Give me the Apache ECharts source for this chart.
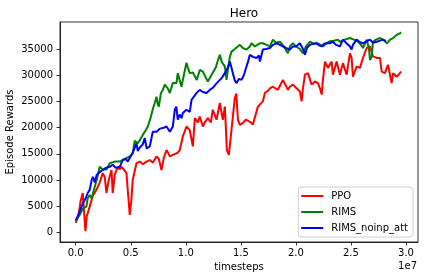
<!DOCTYPE html>
<html>
<head>
<meta charset="utf-8">
<script src="https://cdn.jsdelivr.net/npm/echarts@6/dist/echarts.min.js"></script>
<style>html,body{margin:0;padding:0;background:#fff}#c{width:424px;height:280px}</style>
</head>
<body>
<div id="c"></div>
<script>
// x values in units of 1e7 timesteps
const xTicks = [0.0, 0.5, 1.0, 1.5, 2.0, 2.5, 3.0];
const yTicks = [0, 5000, 10000, 15000, 20000, 25000, 30000, 35000];
const seriesNames = ['PPO', 'RIMS', 'RIMS_noinp_att'];

const ppoX = [0.000,0.027,0.045,0.064,0.088,0.100,0.127,0.155,0.188,0.218,0.245,0.264,0.279,0.300,0.325,0.336,0.355,0.382,0.400,0.415,0.436,0.461,0.473,0.491,0.505,0.518,0.552,0.582,0.609,0.643,0.673,0.700,0.734,0.755,0.779,0.800,0.825,0.855,0.882,0.900,0.927,0.945,0.973,1.006,1.018,1.036,1.064,1.082,1.109,1.127,1.155,1.173,1.200,1.227,1.245,1.279,1.309,1.336,1.355,1.373,1.391,1.415,1.427,1.445,1.459,1.473,1.491,1.518,1.545,1.582,1.609,1.627,1.655,1.673,1.700,1.718,1.745,1.764,1.791,1.809,1.836,1.855,1.882,1.909,1.927,1.945,1.973,2.006,2.036,2.052,2.064,2.082,2.109,2.143,2.173,2.200,2.218,2.234,2.245,2.264,2.291,2.325,2.336,2.370,2.400,2.427,2.461,2.491,2.506,2.518,2.552,2.582,2.609,2.643,2.673,2.700,2.734,2.764,2.779,2.809,2.836,2.870,2.882,2.915,2.945,2.955];
const ppoY = [1800,3500,6000,7500,200,3000,4900,7000,8100,9500,11300,10500,7500,10000,11900,7500,11000,12500,12000,12500,12000,11300,8000,3300,6000,10000,13200,13500,13000,13500,13800,13300,14500,14000,11900,14200,15700,14500,14800,14500,15200,15700,18300,20200,20000,19500,16400,21800,21000,22100,20200,21000,21800,21000,23400,21500,24700,21500,24000,15700,14800,19550,22000,25700,26500,21500,20500,20900,21500,21100,20600,20500,24000,24300,25000,26600,27000,27500,27800,28000,27200,28000,29100,28000,27200,27800,28200,27500,26900,25000,27500,30100,30400,28200,28800,28500,27500,26300,29000,32600,31400,32600,30100,32600,30100,32300,30100,34200,33300,29700,31700,31400,33300,35200,35500,33600,33300,33300,30700,30400,32000,28500,30400,29700,30400,30700];

const rimsX = [0.000,0.018,0.036,0.064,0.097,0.109,0.127,0.145,0.173,0.191,0.218,0.245,0.279,0.309,0.355,0.400,0.445,0.491,0.518,0.536,0.564,0.582,0.609,0.636,0.655,0.682,0.700,0.718,0.734,0.745,0.755,0.773,0.791,0.809,0.836,0.855,0.882,0.915,0.927,0.961,0.973,1.006,1.018,1.036,1.064,1.082,1.100,1.127,1.155,1.182,1.200,1.227,1.245,1.273,1.291,1.309,1.327,1.355,1.370,1.382,1.400,1.415,1.445,1.491,1.518,1.552,1.582,1.597,1.627,1.643,1.673,1.700,1.734,1.764,1.791,1.818,1.855,1.891,1.927,1.945,1.973,2.000,2.036,2.064,2.091,2.127,2.164,2.200,2.245,2.273,2.309,2.345,2.382,2.400,2.445,2.491,2.527,2.564,2.591,2.609,2.643,2.664,2.673,2.688,2.700,2.727,2.764,2.791,2.827,2.855,2.882,2.915,2.945,2.955];
const rimsY = [2000,2800,3300,4500,4900,6500,7100,6500,8700,10000,12500,12000,12000,13200,13500,13500,14000,14500,15100,17500,17000,17600,18600,19500,20200,22000,23500,24700,25900,24500,24000,26500,27200,28200,27500,26600,28500,28500,30400,27800,29100,32400,31500,30400,30500,30700,29100,31000,30700,29500,28800,29800,29700,31500,32800,33900,32500,31700,29100,31000,33500,34500,35000,35800,35200,34900,35500,36100,35500,35200,36100,36100,35800,35500,36800,36200,36400,35500,34200,35500,36100,35500,35000,34200,35500,36400,36000,36100,35500,36000,36500,36600,36800,36400,36800,37100,36800,36400,35800,35200,36800,35000,32900,33500,36400,36800,37100,36800,36100,36800,37100,37700,38000,38200];

const noinpX = [0.000,0.018,0.036,0.066,0.091,0.109,0.127,0.145,0.157,0.173,0.191,0.218,0.245,0.273,0.309,0.336,0.364,0.400,0.427,0.455,0.473,0.491,0.518,0.552,0.564,0.582,0.609,0.627,0.645,0.673,0.700,0.734,0.764,0.791,0.825,0.855,0.882,0.900,0.914,0.927,0.945,0.961,0.973,1.006,1.036,1.052,1.064,1.097,1.127,1.155,1.188,1.218,1.245,1.273,1.309,1.327,1.355,1.382,1.400,1.414,1.427,1.445,1.461,1.482,1.506,1.527,1.552,1.564,1.582,1.609,1.643,1.664,1.673,1.700,1.727,1.764,1.791,1.825,1.855,1.882,1.909,1.945,1.973,2.000,2.036,2.064,2.082,2.100,2.127,2.155,2.188,2.209,2.234,2.255,2.279,2.309,2.336,2.364,2.400,2.427,2.455,2.491,2.506,2.518,2.552,2.582,2.609,2.636,2.673,2.700,2.734,2.764,2.791,2.818];
const noinpY = [2300,3000,4000,5600,6500,7500,8100,10000,10600,9500,11000,11500,11900,12300,12500,12900,12300,12500,13800,14000,13500,14200,15200,17000,15500,16200,16800,18000,16000,16400,19200,19200,19800,19900,20200,19200,20200,23400,24000,21500,22500,21800,22800,23400,23000,25300,25000,26600,27200,26800,26600,27200,27600,28300,29100,29500,30400,31500,32600,31500,30400,29000,28500,29300,29100,30000,31700,32500,33900,33500,33300,33800,32600,34900,35000,35200,35800,36100,35800,35500,35200,34900,35500,35500,36100,35000,33900,35200,35800,36000,36100,35700,35500,36000,36100,36100,36400,35800,35500,36800,36200,35500,34900,35800,36800,36300,36100,36400,36800,36200,36400,36600,36800,36500];

const zip = (xs, ys) => xs.map((x, i) => [x, ys[i]]);
const font = 'DejaVu Sans';
const chart = echarts.init(document.getElementById('c'), null, {renderer: 'canvas'});
const lineSeries = (name, xs, ys, color) => ({
  name, type: 'line', data: zip(xs, ys), showSymbol: false, symbol: 'none',
  lineStyle: {color, width: 2}, itemStyle: {color}, animation: false
});
chart.setOption({
  animation: false,
  backgroundColor: '#fff',
  title: {text: 'Hero', left: 239, top: 3, textAlign: 'center',
    textStyle: {fontFamily: font, fontSize: 12, fontWeight: 'normal', color: '#000'}},
  grid: {left: 60, right: 6, top: 22, bottom: 38, containLabel: false, outerBoundsMode: 'none',
    show: true, borderColor: '#000', borderWidth: 0.8, backgroundColor: 'transparent'},
  legend: {
    orient: 'vertical', right: 11, bottom: 43,
    data: seriesNames.map(n => ({name: n, icon: 'rect'})),
    itemWidth: 22, itemHeight: 2, itemGap: 4,
    backgroundColor: 'rgba(255,255,255,0.85)', borderColor: '#d0d0d0', borderWidth: 1, borderRadius: 3,
    padding: [3, 5, 3, 3],
    textStyle: {fontFamily: font, fontSize: 10, color: '#000', lineHeight: 12, padding: [0, 0, 0, 3]}
  },
  xAxis: {
    type: 'value', min: -0.1427, max: 3.109,
    name: 'timesteps', nameLocation: 'middle', nameGap: 20, nameMoveOverlap: false,
    nameTextStyle: {fontFamily: font, fontSize: 10, color: '#000'},
    axisLine: {show: true, onZero: false, lineStyle: {color: '#000', width: 0.8}},
    axisTick: {show: true, length: 3.5, customValues: xTicks, lineStyle: {color: '#000', width: 0.8}},
    axisLabel: {customValues: xTicks, formatter: v => v.toFixed(1), fontFamily: font, fontSize: 10, color: '#000', margin: 6},
    splitLine: {show: false}
  },
  yAxis: {
    type: 'value', min: -1855, max: 40164,
    name: 'Episode Rewards', nameLocation: 'middle', nameGap: 45, nameRotate: 90, nameMoveOverlap: false,
    nameTextStyle: {fontFamily: font, fontSize: 10, color: '#000'},
    axisLine: {show: true, onZero: false, lineStyle: {color: '#000', width: 0.8}},
    axisTick: {show: true, length: 3.5, customValues: yTicks, lineStyle: {color: '#000', width: 0.8}},
    axisLabel: {customValues: yTicks, formatter: v => String(v), fontFamily: font, fontSize: 10, color: '#000', margin: 7},
    splitLine: {show: false}
  },
  graphic: [{type: 'text', right: 7, top: 261,
    style: {text: '1e7', fontFamily: font, fontSize: 10, fill: '#000'}}],
  series: [
    lineSeries(seriesNames[0], ppoX, ppoY, '#ff0000'),
    lineSeries(seriesNames[1], rimsX, rimsY, '#008000'),
    lineSeries(seriesNames[2], noinpX, noinpY, '#0000ff')
  ]
});
</script>
</body>
</html>
